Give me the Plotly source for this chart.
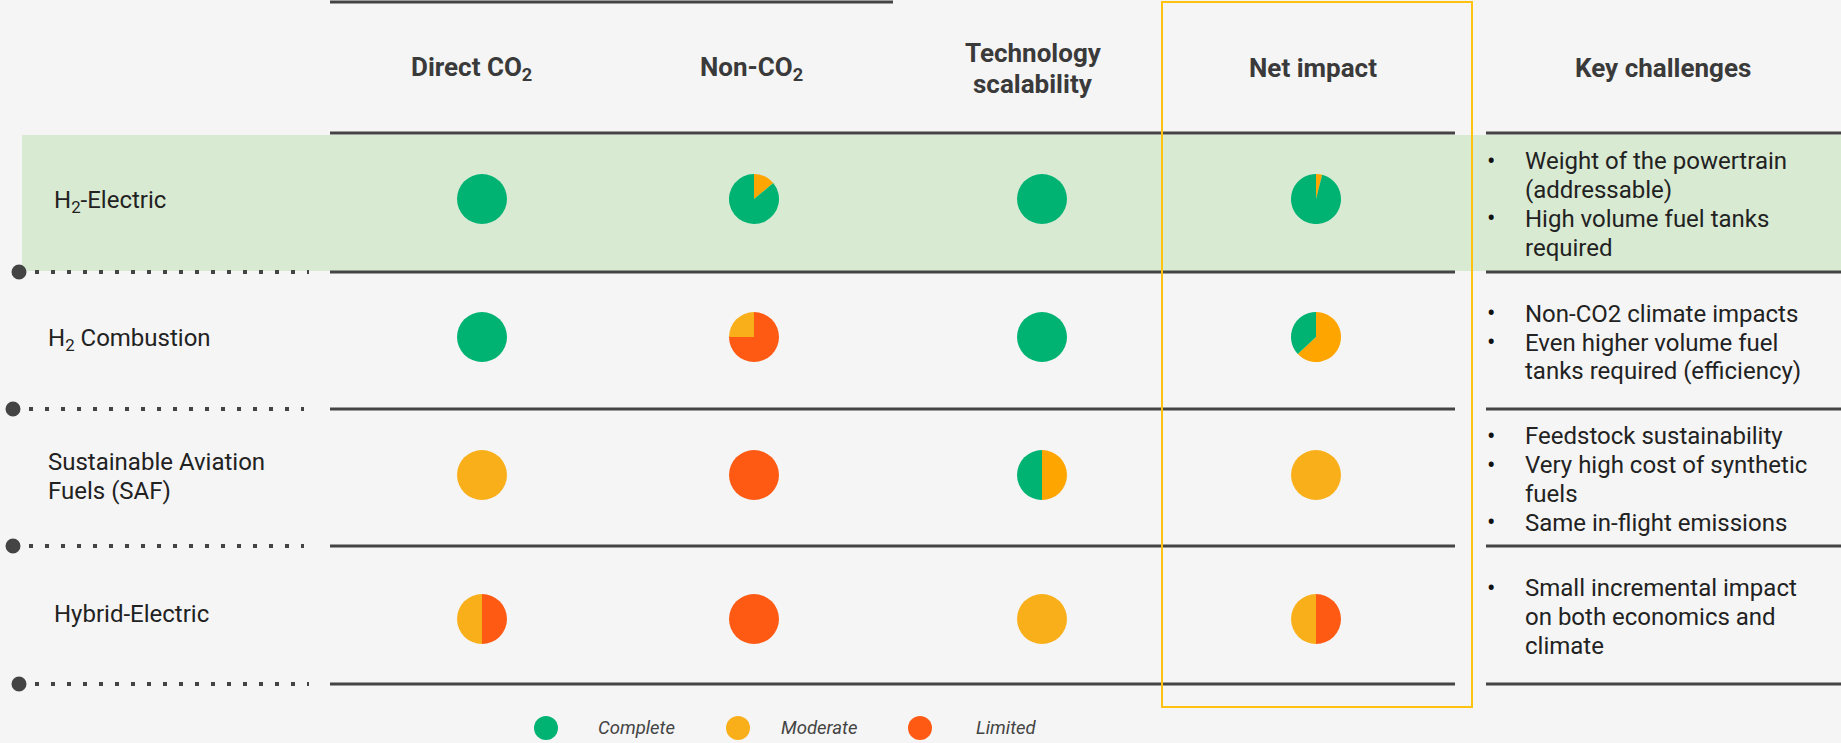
import plotly.graph_objects as go

# ---------------- data ----------------
technologies = [["H<sub>2</sub>-Electric"], ["H<sub>2</sub> Combustion"],
                ["Sustainable Aviation", "Fuels (SAF)"], ["Hybrid-Electric"]]
criteria = [["Direct CO<sub>2</sub>"], ["Non-CO<sub>2</sub>"], ["Technology", "scalability"],
            ["Net impact"], ["Key challenges"]]

# shares clockwise from 12 o'clock, one list per cell (row = technology, col = criterion)
ratings = [
    [[("Complete", 1.0)], [("Moderate+", 0.14), ("Complete", 0.86)], [("Complete", 1.0)],
     [("Moderate+", 0.04), ("Complete", 0.96)]],
    [[("Complete", 1.0)], [("Limited", 0.75), ("Moderate", 0.25)], [("Complete", 1.0)],
     [("Moderate+", 0.63), ("Complete", 0.37)]],
    [[("Moderate", 1.0)], [("Limited", 1.0)], [("Moderate+", 0.5), ("Complete", 0.5)],
     [("Moderate", 1.0)]],
    [[("Limited", 0.5), ("Moderate", 0.5)], [("Limited", 1.0)], [("Moderate", 1.0)],
     [("Limited", 0.5), ("Moderate", 0.5)]],
]

challenges = [
    [["Weight of the powertrain", "(addressable)"], ["High volume fuel tanks", "required"]],
    [["Non-CO2 climate impacts"], ["Even higher volume fuel", "tanks required (efficiency)"]],
    [["Feedstock sustainability"], ["Very high cost of synthetic", "fuels"], ["Same in-flight emissions"]],
    [["Small incremental impact", "on both economics and", "climate"]],
]

legend_items = ["Complete", "Moderate", "Limited"]

# ---------------- style / layout ----------------
W, H = 1841, 743
colors = {"Complete": "#00B373", "Moderate": "#F9AF1A", "Moderate+": "#FFA500", "Limited": "#FF5A14"}
BG = "#F5F5F5"
LINE = "#444444"
FONT = "Roboto"

col_x = [482, 754, 1042, 1316]
header_x = [471, 751, 1033, 1313, 1663]
sep_y = [133, 272, 409, 546, 684]
row_y = [199, 337, 475, 619]
label_x = [52, 46, 46, 52]
dot_x = [19, 13, 13, 19]
dot_end = [309, 304, 304, 309]
R = 25
line_gap = 28.7
bullet_x, text_x = 1491, 1523
legend_y = 728
legend_dot_x = [546, 738, 920]
legend_text_x = [596, 779, 974]

fig = go.Figure()

# invisible trace to establish pixel axes
fig.add_trace(go.Scatter(x=[0, W], y=[0, H], mode="markers", marker=dict(opacity=0),
                         hoverinfo="skip", showlegend=False))

shapes = []
annotations = []

# green highlight band for first row
shapes.append(dict(type="rect", x0=22, x1=W, y0=135, y1=271, fillcolor="#D9EAD3",
                   line=dict(width=0), layer="below"))

# top line
shapes.append(dict(type="line", x0=330, x1=893, y0=2, y1=2, line=dict(color=LINE, width=3)))

# separators
for i, y in enumerate(sep_y):
    shapes.append(dict(type="line", x0=330, x1=1455, y0=y, y1=y, line=dict(color=LINE, width=3)))
    shapes.append(dict(type="line", x0=1486, x1=W, y0=y, y1=y, line=dict(color=LINE, width=3)))
    if i >= 1:
        dx = dot_x[i - 1]
        shapes.append(dict(type="circle", x0=dx - 7.5, x1=dx + 7.5, y0=y - 7.5, y1=y + 7.5,
                           fillcolor=LINE, line=dict(width=0)))
        shapes.append(dict(type="line", x0=dx + 16, x1=dot_end[i - 1], y0=y, y1=y,
                           line=dict(color=LINE, width=4, dash="4px,12px")))

# net impact highlight box
shapes.append(dict(type="rect", x0=1162, x1=1472, y0=2, y1=707, fillcolor="rgba(0,0,0,0)",
                   line=dict(color="#FFC20E", width=2), layer="above"))

# header texts
for j, lines in enumerate(criteria):
    n = len(lines)
    for k, t in enumerate(lines):
        y = 68 + (k - (n - 1) / 2) * 31
        annotations.append(dict(x=header_x[j], y=y, text="<b>" + t + "</b>", showarrow=False,
                                xanchor="center", yanchor="middle",
                                font=dict(family=FONT, size=26, color="#3A3A3A")))

# technology labels
for i, lines in enumerate(technologies):
    n = len(lines)
    yc = (sep_y[i] + sep_y[i + 1]) / 2 - 1
    for k, t in enumerate(lines):
        y = yc + (k - (n - 1) / 2) * 29
        annotations.append(dict(x=label_x[i], y=y, text=t, showarrow=False, xanchor="left",
                                yanchor="middle", font=dict(family=FONT, size=24, color="#222222")))

# pies
for i, row in enumerate(ratings):
    for j, cell in enumerate(row):
        cx, cy = col_x[j], row_y[i]
        fig.add_trace(go.Pie(
            labels=[c[0] for c in cell], values=[c[1] for c in cell],
            marker=dict(colors=[colors[c[0]] for c in cell], line=dict(width=0)),
            sort=False, direction="clockwise", rotation=0, textinfo="none",
            hoverinfo="skip", showlegend=False,
            domain=dict(x=[(cx - R) / W, (cx + R) / W], y=[1 - (cy + R) / H, 1 - (cy - R) / H])))

# key challenges
for i, bullets in enumerate(challenges):
    lines = []
    for b in bullets:
        for k, t in enumerate(b):
            lines.append((k == 0, t))
    n = len(lines)
    yc = (sep_y[i] + sep_y[i + 1]) / 2 + 2
    for k, (first, t) in enumerate(lines):
        y = yc + (k - (n - 1) / 2) * line_gap
        if first:
            annotations.append(dict(x=bullet_x, y=y, text="•", showarrow=False, xanchor="center",
                                    yanchor="middle",
                                    font=dict(family=FONT, size=25, color="#111111")))
        annotations.append(dict(x=text_x, y=y, text=t, showarrow=False, xanchor="left",
                                yanchor="middle",
                                font=dict(family=FONT, size=24, color="#222222")))

# legend
for k, name in enumerate(legend_items):
    lx = legend_dot_x[k]
    shapes.append(dict(type="circle", x0=lx - 12, x1=lx + 12, y0=legend_y - 12, y1=legend_y + 12,
                       fillcolor=colors[name], line=dict(width=0)))
    annotations.append(dict(x=legend_text_x[k], y=legend_y, text="<i>" + name + "</i>", showarrow=False,
                            xanchor="left", yanchor="middle",
                            font=dict(family=FONT, size=18.5, color="#444444")))

fig.update_layout(
    width=W, height=H, margin=dict(l=0, r=0, t=0, b=0),
    paper_bgcolor=BG, plot_bgcolor=BG,
    xaxis=dict(range=[0, W], visible=False, fixedrange=True),
    yaxis=dict(range=[H, 0], visible=False, fixedrange=True),
    shapes=shapes, annotations=annotations, showlegend=False,
)

fig.write_html("out.html", config={"displayModeBar": False},
               post_script="document.body.style.margin='0';document.body.style.overflow='hidden';")
